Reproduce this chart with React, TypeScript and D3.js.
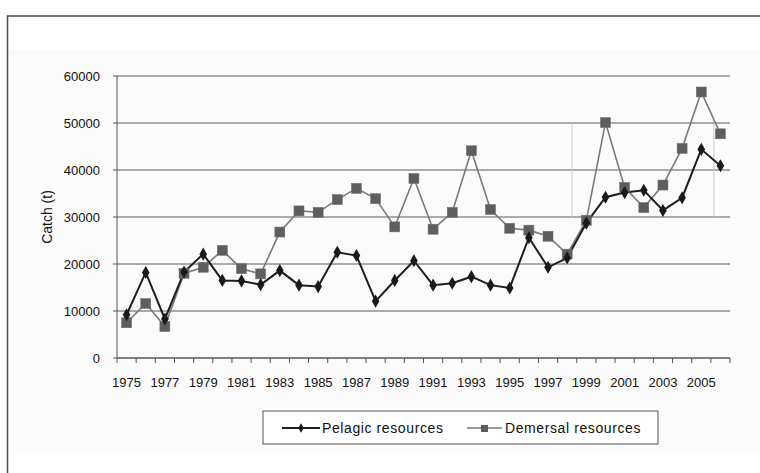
import React from "react";
import * as d3 from "d3";

const years: number[] = [
  1975, 1976, 1977, 1978, 1979, 1980, 1981, 1982, 1983, 1984, 1985, 1986, 1987,
  1988, 1989, 1990, 1991, 1992, 1993, 1994, 1995, 1996, 1997, 1998, 1999, 2000,
  2001, 2002, 2003, 2004, 2005, 2006,
];
const pelagic: number[] = [
  9200, 18200, 8300, 18300, 22100, 16500, 16400, 15600, 18600, 15500, 15200,
  22500, 21800, 12100, 16500, 20700, 15500, 15900, 17300, 15500, 14900, 25600,
  19300, 21300, 28700, 34200, 35200, 35700, 31400, 34100, 44400, 40900,
];
const demersal: number[] = [
  7500, 11600, 6700, 18000, 19300, 22900, 19000, 17900, 26800, 31300, 31000,
  33700, 36100, 33900, 27900, 38200, 27400, 31000, 44100, 31600, 27600, 27200,
  25900, 22100, 29300, 50100, 36300, 32000, 36800, 44600, 56600, 47700,
];
const yTicks: number[] = [0, 10000, 20000, 30000, 40000, 50000, 60000];
const xTickLabels: number[] = [
  1975, 1977, 1979, 1981, 1983, 1985, 1987, 1989, 1991, 1993, 1995, 1997, 1999,
  2001, 2003, 2005,
];
const refLines = [
  { year: 1998.25, from: 30000, to: 50000 },
  { year: 2005.66, from: 30000, to: 50000 },
];
const seriesNames = ["Pelagic resources", "Demersal resources"];

const W = 760;
const H = 473;
const left = 117;
const right = 730;
const top = 76;
const bottom = 358;

export default function App() {
  const x = d3
    .scaleBand<string>()
    .domain(years.map(String))
    .range([left, right])
    .padding(0);
  const bw = x.bandwidth();
  const cx = (yr: number) => (x(String(yr)) as number) + bw / 2;
  const yearLinear = d3
    .scaleLinear()
    .domain([years[0], years[years.length - 1]])
    .range([cx(years[0]), cx(years[years.length - 1])]);
  const y = d3.scaleLinear().domain([0, 60000]).range([bottom, top]);

  const line = d3
    .line<number>()
    .x((_, i) => cx(years[i]))
    .y((d) => y(d));

  const font = "'Liberation Sans', Arial, sans-serif";
  const boundaries = d3.range(years.length + 1).map((k) => left + k * bw);
  const diamond = d3.symbol().type(d3.symbolDiamond).size(50)();

  return (
    <svg
      width={W}
      height={H}
      style={{ position: "absolute", left: 0, top: 0, background: "#fff" }}
      fontFamily={font}
    >
      <rect x={0} y={0} width={W} height={H} fill="#fff" />
      <rect x={8} y={50} width={W} height={405} fill="#fbfbfb" />
      <rect
        x={7.5}
        y={16}
        width={W + 20}
        height={H + 20}
        fill="none"
        stroke="#555"
        strokeWidth={1.6}
      />
      {yTicks.map((t) => (
        <line
          key={"g" + t}
          x1={left}
          x2={right}
          y1={y(t)}
          y2={y(t)}
          stroke="#5a5a5a"
          strokeWidth={1}
        />
      ))}
      {refLines.map((r, i) => (
        <line
          key={"r" + i}
          x1={yearLinear(r.year)}
          x2={yearLinear(r.year)}
          y1={y(r.to)}
          y2={y(r.from)}
          stroke="#c8c8c8"
          strokeWidth={1}
        />
      ))}
      <line x1={left} x2={left} y1={top} y2={bottom} stroke="#555" />
      <line x1={left} x2={right} y1={bottom} y2={bottom} stroke="#555" />
      {yTicks.map((t) => (
        <line
          key={"yt" + t}
          x1={left - 4}
          x2={left}
          y1={y(t)}
          y2={y(t)}
          stroke="#555"
        />
      ))}
      {boundaries.map((bx, i) => (
        <line
          key={"xt" + i}
          x1={bx}
          x2={bx}
          y1={bottom}
          y2={bottom + 5}
          stroke="#555"
        />
      ))}
      {yTicks.map((t) => (
        <text
          key={"yl" + t}
          x={100}
          y={y(t)}
          dy="0.35em"
          textAnchor="end"
          fontSize={13}
          fill="#111"
        >
          {t}
        </text>
      ))}
      {xTickLabels.map((yr) => (
        <text
          key={"xl" + yr}
          x={cx(yr)}
          y={387}
          textAnchor="middle"
          fontSize={13}
          fill="#111"
        >
          {yr}
        </text>
      ))}
      <text
        transform={`translate(52,${(top + bottom) / 2}) rotate(-90)`}
        textAnchor="middle"
        fontSize={14}
        fill="#111"
      >
        Catch (t)
      </text>
      <path d={line(demersal) || ""} fill="none" stroke="#7a7a7a" strokeWidth={1.6} />
      <path d={line(pelagic) || ""} fill="none" stroke="#1e1e1e" strokeWidth={2} />
      {demersal.map((v, i) => (
        <rect
          key={"dm" + i}
          x={cx(years[i]) - 5}
          y={y(v) - 5}
          width={10}
          height={10}
          fill="#5e5e5e"
          stroke="#6e6e6e"
          strokeWidth={0.5}
        />
      ))}
      {pelagic.map((v, i) => (
        <path
          key={"pm" + i}
          d={diamond || ""}
          transform={`translate(${cx(years[i])},${y(v)})`}
          fill="#1a1a1a"
        />
      ))}
      <rect
        x={263}
        y={411}
        width={395}
        height={33}
        fill="#fff"
        stroke="#555"
        strokeWidth={1}
      />
      <line x1={282} x2={320} y1={428} y2={428} stroke="#1e1e1e" strokeWidth={2} />
      <path d={d3.symbol().type(d3.symbolDiamond).size(26)() || ""} transform="translate(301,428)" fill="#1a1a1a" />
      <text x={322} y={428} dy="0.35em" fontSize={14} letterSpacing={0.6} fill="#111">
        {seriesNames[0]}
      </text>
      <line x1={467} x2={502} y1={428} y2={428} stroke="#7a7a7a" strokeWidth={1.6} />
      <rect x={481} y={425} width={7} height={7} fill="#5e5e5e" />
      <text x={505} y={428} dy="0.35em" fontSize={14} letterSpacing={0.6} fill="#111">
        {seriesNames[1]}
      </text>
    </svg>
  );
}
